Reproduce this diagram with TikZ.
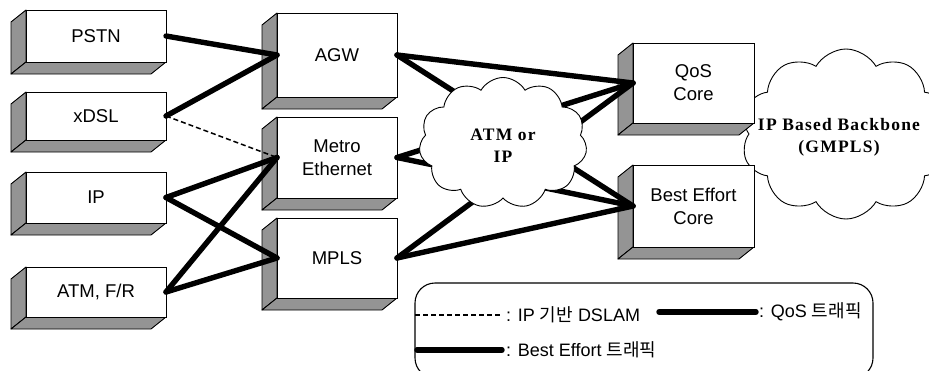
\documentclass[tikz,border=0pt]{standalone}
\usepackage{fontspec}
\setmainfont{Liberation Sans}
\newfontfamily\krfont{Noto Sans CJK KR}
\newfontfamily\cloudfont[LetterSpace=7]{Liberation Serif}
\usetikzlibrary{shapes.symbols}
\tikzset{
 panel/.style={fill=black!42, draw=black, line width=0.9pt, line join=round},
 face/.style={draw=black, fill=white, line width=0.9pt, inner sep=0pt, outer sep=0pt, align=center, font=\fontsize{18.5}{23}\selectfont},
 trunk/.style={line width=5.4pt, line cap=round},
 dsl/.style={line width=1.5pt, dash pattern=on 5pt off 3pt},
 cloudnode/.style={cloud, draw, fill=white, line width=0.9pt, cloud puff arc=120, inner sep=0pt},
 cloudtxt/.style={font=\cloudfont\bfseries\fontsize{17.5}{22}\selectfont, align=center, inner sep=0pt},
 legtxt/.style={font=\fontsize{18}{20}\selectfont, anchor=west, inner sep=0pt},
 legbox/.style={draw, line width=1.1pt, rounded corners=20pt, inner sep=0pt}
}
% name, x1, y1, x2, y2, text
\newcommand{\dbox}[6]{%
 \filldraw[panel] (#2,#3) -- (#2-15,#3+12) -- (#2-15,#5+12) -- (#2,#5) -- cycle;
 \filldraw[panel] (#2,#5) -- (#2-15,#5+12) -- (#4-15,#5+12) -- (#4,#5) -- cycle;
 \node[face, minimum width={(#4-#2)*1pt}, minimum height={(#5-#3)*1pt}] (#1) at ({(#2+#4)/2},{(#3+#5)/2}) {#6};
}
\begin{document}
\begin{tikzpicture}[x=1pt,y=-1pt]
\useasboundingbox (0,0) rectangle (929,370);

% backbone cloud (behind core boxes)
\node[cloudnode, cloud puffs=10, minimum width=210pt, minimum height=170pt] (bb) at (846,134) {};
\node[cloudtxt] (bbtext) at (839,137) {IP Based Backbone\\(GMPLS)};

% boxes
\dbox{pstn}{26}{10}{166}{62}{PSTN}
\dbox{xdsl}{26}{92}{166}{140}{xDSL}
\dbox{ip}{26}{172}{166}{223}{IP}
\dbox{atm}{26}{267}{166}{317}{ATM, F/R}
\dbox{agw}{277}{13}{397}{97}{AGW}
\dbox{metro}{277}{117}{397}{198}{Metro\\Ethernet}
\dbox{mpls}{277}{218}{397}{298}{MPLS}
\dbox{qos}{633}{43}{754}{123}{QoS\\Core}
\dbox{best}{633}{165}{754}{247}{Best Effort\\Core}

% access links
\draw[trunk] (pstn.east) -- (agw.west);
\draw[trunk] (xdsl.east) -- (agw.west);
\draw[dsl] (xdsl.east) -- (metro.west);
\draw[trunk] (ip.east) -- (metro.west);
\draw[trunk] (ip.east) -- (mpls.west);
\draw[trunk] (atm.east) -- (metro.west);
\draw[trunk] (atm.east) -- (mpls.west);

% core links
\foreach \s in {agw,metro,mpls}{
  \draw[trunk] (\s.east) -- (qos.west);
  \draw[trunk] (\s.east) -- (best.west);
}

% ATM / IP cloud on top
\node[cloudnode, cloud puffs=11, minimum width=168pt, minimum height=131pt] (atmip) at (503,143) {};
\node[cloudtxt] (atmiptext) at (503,146) {ATM or\\IP};

% legend
\node[legbox, minimum width=458pt, minimum height=95pt] (legend) at (644,330.5) {};
\coordinate (d1) at (415,315); \coordinate (d2) at (500,315);
\draw[dsl] (d1) -- (d2);
\node[legtxt] (l1) at (506,315) {: IP {\krfont 기반} DSLAM};
\coordinate (q1) at (659,312); \coordinate (q2) at (756,312);
\draw[trunk] (q1) -- (q2);
\node[legtxt] (l2) at (759,312) {: QoS {\krfont 트래픽}};
\coordinate (b1) at (417,350); \coordinate (b2) at (502,350);
\draw[trunk] (b1) -- (b2);
\node[legtxt] (l3) at (506,350) {: Best Effort {\krfont 트래픽}};
\end{tikzpicture}
\end{document}
